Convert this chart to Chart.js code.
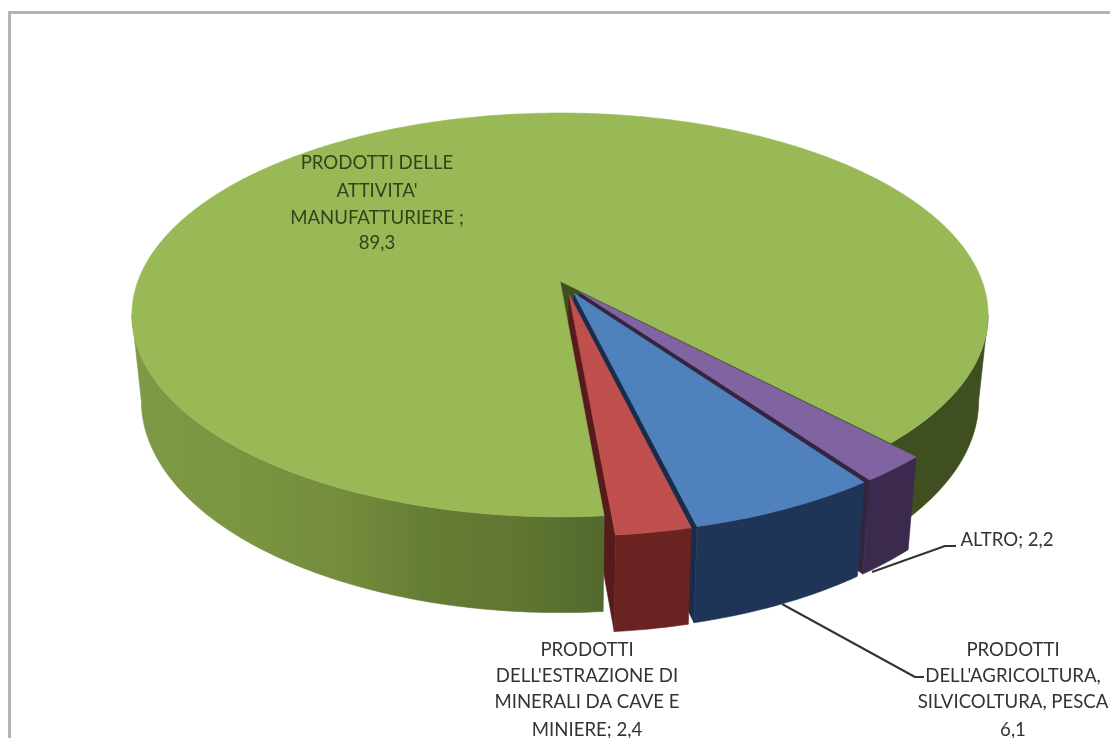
<!DOCTYPE html>
<html lang="it">
<head>
<meta charset="utf-8">
<title>Prodotti</title>
<script src="https://cdn.jsdelivr.net/npm/chart.js@4"></script>
<style>
  html, body { margin: 0; padding: 0; background: #fff; overflow: hidden; }
  #wrap { position: relative; width: 1110px; height: 738px; overflow: hidden; }
  #frame { position: absolute; left: 8px; top: 11px; width: 1200px; height: 900px; border: 3px solid #b3b3b3; }
  canvas { position: absolute; left: 0; top: 0; }
</style>
</head>
<body>
<div id="wrap">
  <div id="frame"></div>
  <canvas id="pie" width="1110" height="738"></canvas>
</div>
<script>
// Shares by product group, in slice order
const categories = [
  "PRODOTTI DELL'AGRICOLTURA, SILVICOLTURA, PESCA",
  "PRODOTTI DELL'ESTRAZIONE DI MINERALI DA CAVE E MINIERE",
  "PRODOTTI DELLE ATTIVITA' MANUFATTURIERE",
  "ALTRO"
];
const shares = [6.1, 2.4, 89.3, 2.2];

// Label text, one entry per line
const labelLines = [
  ["PRODOTTI", "DELL'AGRICOLTURA,", "SILVICOLTURA, PESCA", "6,1"],
  ["PRODOTTI", "DELL'ESTRAZIONE DI", "MINERALI DA CAVE E", "MINIERE; 2,4"],
  ["PRODOTTI DELLE", "ATTIVITA'", "MANUFATTURIERE ;", "89,3"],
  ["ALTRO; 2,2"]
];
const labelCenterX = [1013, 587, 377, 1007];
const labelLineY = [[650, 676, 702, 730], [650, 676, 702, 730], [163, 191, 218, 243], [540]];
const labelColors = ["#333333", "#333333", "#33421b", "#333333"];

// Slice styling
const topColors = ["#4f81bd", "#c0504d", "#99b957", "#8064a2"];
const sideColors = ["#1f3558", "#6a2321", "#3f4f1f", "#3b2a4d"];
const edgeColors = ["#1a2c4c", "#571b1b", "#364419", "#33243f"];
// Pull-out distance of each slice and how far its direction turns from the slice's middle
const explode = [0.07, 0.07, 0, 0.07];
const explodeTurn = [-3, -8, 0, 0];

// Leader lines from slices to their labels
const leaders = [
  { points: [[782, 604], [915, 677], [924, 677]] },
  { points: [[872, 572], [945, 546], [956, 546]] }
];

// Pie tilt and perspective
const view = { cx: 560, cy: 281, a: 422, b: 196.2, k: 0.168, shrink: 0.978, depth: 84 };
const rad = d => d * Math.PI / 180;
// Angle where the rim of the disc reaches its widest point on screen
const widest = Math.asin(view.k);

function project(theta, r, ou, ov, low) {
  const u = ou + r * Math.cos(theta);
  const v = ov + r * Math.sin(theta);
  const w = 1 / (1 - view.k * v);
  const s = low ? view.shrink : 1;
  return [view.cx + s * view.a * u * w, view.cy + s * view.b * v * w + (low ? view.depth * w : 0)];
}

function tracePoints(ctx, pts) {
  ctx.beginPath();
  pts.forEach((p, i) => (i ? ctx.lineTo(p[0], p[1]) : ctx.moveTo(p[0], p[1])));
  ctx.closePath();
}

function rim(from, to, ou, ov, low) {
  const n = Math.max(4, Math.ceil(Math.abs(to - from) / rad(1)));
  const pts = [];
  for (let i = 0; i <= n; i++) pts.push(project(from + (to - from) * i / n, 1, ou, ov, low));
  return pts;
}

function fillShape(ctx, pts, color) {
  tracePoints(ctx, pts);
  ctx.fillStyle = color;
  ctx.strokeStyle = color;
  ctx.lineWidth = 0.6;
  ctx.fill();
  ctx.stroke();
}

const drawTop = (ctx, s, color) =>
  fillShape(ctx, [project(0, 0, s.ou, s.ov, false), ...rim(s.start, s.end, s.ou, s.ov, false)], color);

const drawOuter = (ctx, s, from, to, color) =>
  fillShape(ctx, [...rim(from, to, s.ou, s.ov, false), ...rim(from, to, s.ou, s.ov, true).reverse()], color);

const drawRadial = (ctx, s, theta, color) =>
  fillShape(ctx, [
    project(0, 0, s.ou, s.ov, false),
    project(theta, 1, s.ou, s.ov, false),
    project(theta, 1, s.ou, s.ov, true),
    project(0, 0, s.ou, s.ov, true)
  ], color);

// Draws the tilted, exploded pie from the angles computed by the pie controller
const tiltedPie = {
  id: 'tiltedPie',
  beforeDatasetsDraw(chart) {
    const ctx = chart.ctx;
    const slices = chart.getDatasetMeta(0).data.map((arc, i) => {
      const dir = (arc.startAngle + arc.endAngle) / 2 + rad(explodeTurn[i]);
      return {
        start: arc.startAngle, end: arc.endAngle,
        ou: explode[i] * Math.cos(dir), ov: explode[i] * Math.sin(dir),
        top: topColors[i], side: sideColors[i], edge: edgeColors[i]
      };
    });
    const [agri, mine, manu, other] = slices;

    // Main slice: the part of its wall behind the exploded slices
    drawOuter(ctx, manu, 2 * Math.PI + widest, manu.end, manu.side);
    drawRadial(ctx, manu, manu.end, manu.side);

    // Exploded slices, back to front
    [other, agri].forEach(s => {
      drawRadial(ctx, s, s.end, s.edge);
      drawOuter(ctx, s, s.start, s.end, s.side);
      drawTop(ctx, s, s.top);
    });
    drawRadial(ctx, mine, mine.end, mine.edge);
    drawOuter(ctx, mine, mine.start, mine.end, mine.side);

    // Main slice: shaded front wall and upper face
    const shade = ctx.createLinearGradient(131, 0, 604, 0);
    shade.addColorStop(0, '#7f9a47');
    shade.addColorStop(0.25, '#7a9441');
    shade.addColorStop(0.45, '#748c3c');
    shade.addColorStop(0.62, '#667d35');
    shade.addColorStop(0.82, '#607631');
    shade.addColorStop(1, '#53692d');
    drawOuter(ctx, manu, manu.start, Math.PI - widest, shade);
    drawTop(ctx, manu, manu.top);
    drawTop(ctx, mine, mine.top);
    return false;
  },
  afterDraw(chart) {
    const ctx = chart.ctx;
    ctx.save();
    ctx.strokeStyle = '#333';
    ctx.lineWidth = 2;
    ctx.lineJoin = 'round';
    leaders.forEach(l => {
      ctx.beginPath();
      l.points.forEach((p, i) => (i ? ctx.lineTo(p[0], p[1]) : ctx.moveTo(p[0], p[1])));
      ctx.stroke();
    });
    ctx.font = '18.6px Lato, "Open Sans", sans-serif';
    ctx.textAlign = 'center';
    ctx.textBaseline = 'middle';
    labelLines.forEach((lines, i) => {
      ctx.fillStyle = labelColors[i];
      lines.forEach((t, j) => ctx.fillText(t, labelCenterX[i], labelLineY[i][j]));
    });
    ctx.restore();
  }
};

new Chart(document.getElementById('pie'), {
  type: 'pie',
  data: {
    labels: categories,
    datasets: [{ data: shares, backgroundColor: topColors, borderWidth: 0 }]
  },
  options: {
    responsive: false,
    animation: false,
    rotation: 144.4,
    events: [],
    plugins: { legend: { display: false }, tooltip: { enabled: false } }
  },
  plugins: [tiltedPie]
});
</script>
</body>
</html>
